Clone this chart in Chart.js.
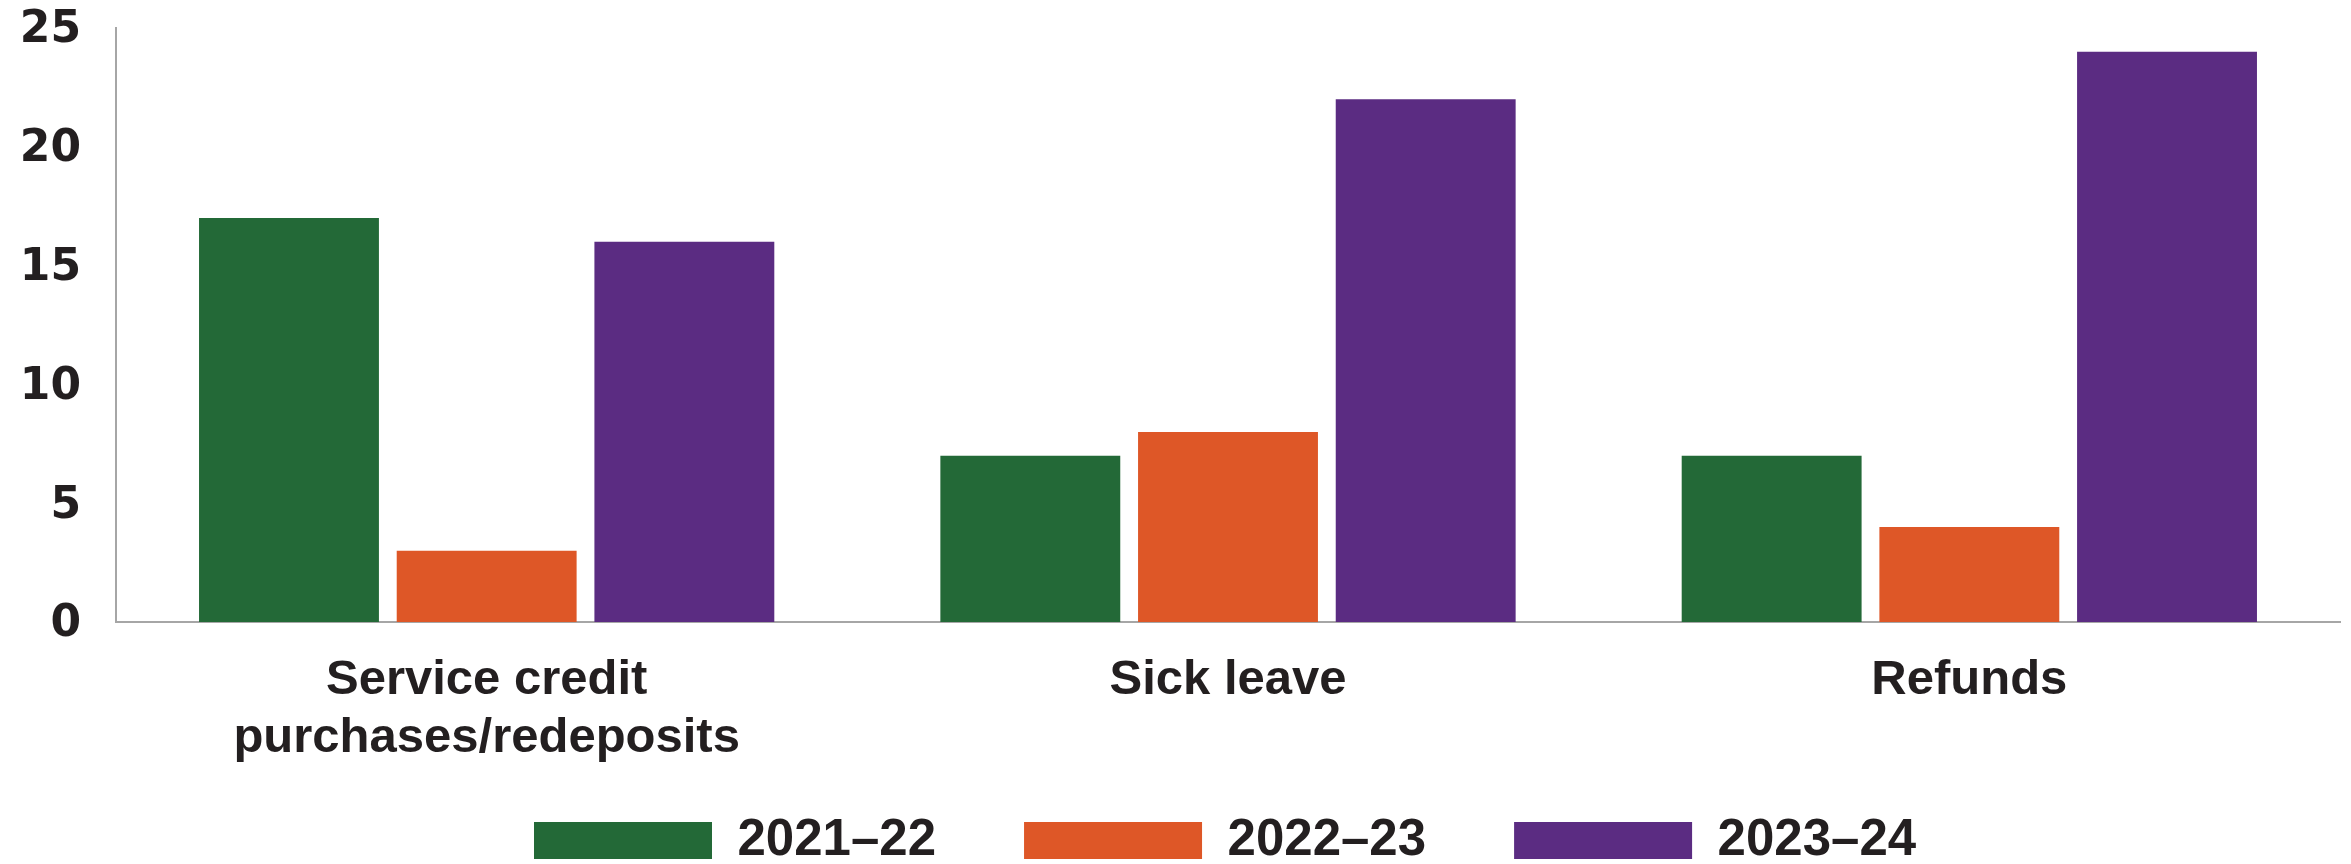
<!DOCTYPE html>
<html>
<head>
<meta charset="utf-8">
<script src="https://cdn.jsdelivr.net/npm/chart.js@4.4.1/dist/chart.umd.min.js"></script>
<style>
  html, body { margin:0; padding:0; background:#ffffff; }
  #wrap { width:2351px; height:864px; }
</style>
</head>
<body>
<div id="wrap"><canvas id="chartCases" width="2351" height="864"></canvas></div>
<script>
// data
var categories = [['Service credit', 'purchases/redeposits'], 'Sick leave', 'Refunds'];
var seriesLabels = ['2021\u201322', '2022\u201323', '2023\u201324'];
var values2021 = [17, 7, 7];
var values2022 = [3, 8, 4];
var values2023 = [16, 22, 24];
var yTicks = [0, 5, 10, 15, 20, 25];

var colors = ['#236937', '#de5727', '#5b2c82'];
var textColor = '#231f20';
var axisColor = '#a6a6a6';

// legend sits in a fixed spot under the axis labels
var legendSpot = {
  id: 'legendSpot',
  afterLayout: function(chart){
    var lg = chart.legend;
    if(!lg) return;
    var pad = lg.options.labels.padding;
    lg.left = 534 - pad;
    lg.right = 2351;
    lg.top = 815 - pad;
  }
};

(function(){
  'use strict';
  var canvas = document.getElementById('chartCases');
  var allValues = [values2021, values2022, values2023];

  new Chart(canvas, {
    type: 'bar',
    data: {
      labels: categories,
      datasets: seriesLabels.map(function(label, i){
        return {
          label: label,
          data: allValues[i],
          backgroundColor: colors[i],
          borderWidth: 0,
          categoryPercentage: 0.8,
          barPercentage: 0.91
        };
      })
    },
    options: {
      responsive: false,
      animation: false,
      layout: { padding: { top: 28, right: 11, bottom: 0, left: 0 } },
      plugins: {
        tooltip: { enabled: false },
        legend: {
          position: 'bottom',
          align: 'start',
          maxHeight: 60,
          labels: {
            boxWidth: 178,
            boxHeight: 37,
            padding: 88,
            color: textColor,
            font: { family: 'Liberation Sans', size: 51, weight: 'bold' }
          }
        }
      },
      scales: {
        x: {
          grid: { display: false, drawTicks: false },
          border: { display: true, color: axisColor, width: 2 },
          ticks: {
            color: textColor,
            padding: 29,
            maxRotation: 0,
            autoSkip: false,
            font: { family: 'Liberation Sans', size: 49, weight: 'bold', lineHeight: 1.19 }
          },
          afterFit: function(scale){ scale.height = 182; }
        },
        y: {
          min: 0,
          max: 25,
          afterBuildTicks: function(scale){
            scale.ticks = yTicks.map(function(v){ return { value: v }; });
          },
          grid: { display: false, drawTicks: false },
          border: { display: true, color: axisColor, width: 2 },
          ticks: {
            color: textColor,
            padding: 35,
            labelOffset: 3,
            font: { family: 'DejaVu Sans', size: 44, weight: 'bold', lineHeight: 1 }
          },
          afterFit: function(scale){
            scale.width = 116;
            scale.paddingTop = 0;
            scale.paddingBottom = 0;
          }
        }
      }
    },
    plugins: [legendSpot]
  });
})();
</script>
</body>
</html>
